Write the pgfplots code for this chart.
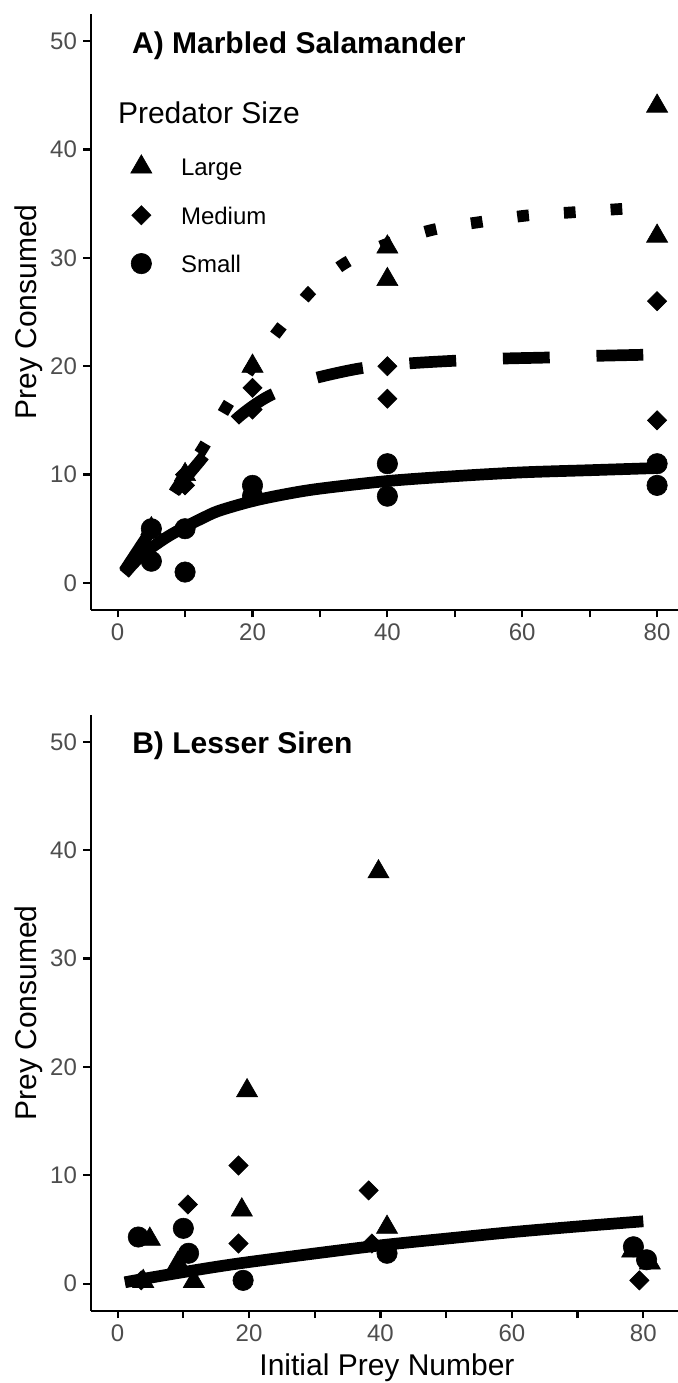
\documentclass[border=0pt]{standalone}
\usepackage{fontspec}
\setmainfont{Liberation Sans}
\usepackage{pgfplots}
\pgfplotsset{compat=1.18}
\definecolor{tickgray}{HTML}{4D4D4D}

\pgfplotsset{
  panel/.style={
    scale only axis, width=293.6pt, height=298pt,
    anchor=south west,
    axis x line=bottom, axis y line=left,
    axis line style={-, line width=1.1pt, black},
    ymin=-2.5, ymax=52.5,
    xtick={0,10,...,80}, xticklabels={0,,20,,40,,60,,80},
    ytick={0,10,...,50}, yticklabels={0,10,20,30,40,50},
    tick align=outside, major tick length=3.75pt,
    tick style={line width=1.1pt, black},
    ticklabel style={font=\fontsize{12}{14}\selectfont, text=tickgray, inner sep=0pt},
    xticklabel shift=3pt, yticklabel shift=3pt,
    clip=false,
  },
  mkleg/.style={legend image code/.code={
      \path[draw=none, fill=none] (-8pt,-5.75pt) rectangle (8pt,5.75pt);
      \draw[##1,overlay] plot coordinates {(0pt,1.25pt)};}},
  large/.style={only marks, mark=triangle*, mark size=6.1pt,
    mark options={fill=black, draw=black, line width=0.3pt}, mkleg},
  medium/.style={only marks, mark=square*, mark size=3.4pt,
    mark options={rotate=45, fill=black, draw=black, line width=0.3pt}, mkleg},
  small/.style={only marks, mark=*, mark size=5.1pt,
    mark options={fill=black, draw=black, line width=0.3pt}, mkleg},
  fit/.style={no marks, smooth, black, line width=5.85pt, line join=round, forget plot},
}

\begin{document}
\begin{tikzpicture}
\path[use as bounding box] (0,0) rectangle (339pt,691.5pt);

% A) Marbled Salamander
\begin{axis}[panel, at={(45.4pt,386.5pt)}, xmin=-3.98, xmax=83.1,
  legend cell align=left,
  legend style={at={(0.0588,0.7584)}, anchor=north west, draw=none, fill=none,
    inner sep=0pt, outer sep=0pt, row sep=12.65pt, column sep=0pt,
    font=\fontsize{12}{14}\selectfont,
    nodes={inner sep=0pt, text height=9pt, text depth=2.5pt},
    /tikz/every odd column/.append style={column sep=11.85pt}}]
\addplot[large] coordinates {
  (5,5) (10,10) (20,20) (40,31) (40,28) (80,44) (80,32)
};
\addlegendentry{Large}
\addplot[medium] coordinates {
  (5,5) (10,9) (10,10) (20,18) (20,16) (40,20) (40,17) (80,26) (80,15)
};
\addlegendentry{Medium}
\addplot[small] coordinates {
  (5,2) (5,5) (10,5) (10,1) (20,9) (20,8) (40,11) (40,8) (80,11) (80,9)
};
\addlegendentry{Small}
% fitted curves
\addplot[fit, dash pattern=on 5.85pt off 17.55pt] coordinates {
  (1,1.0) (4,4.0) (8,8.0) (12.7,12.5) (16.2,16.3) (20,20.0) (24.1,23.5)
  (28.8,27.0) (33.7,29.5) (40,31.3) (46.8,32.6) (53.7,33.3) (60.6,33.9)
  (67.5,34.2) (74.4,34.5) (80,34.7)
};
\addplot[fit, dash pattern=on 23.4pt off 23.4pt] coordinates {
  (1,1.1) (3,3.0) (5,4.9) (8,7.9) (10,9.6) (12,11.1) (14.5,13.0) (17.4,15.0)
  (20,16.3) (22.6,17.3) (26,18.2) (29.3,18.9) (36,19.8) (43.1,20.25)
  (49.9,20.5) (57,20.7) (63.8,20.8) (70.8,20.95) (77.8,21.05) (80,21.1)
};
\addplot[fit] coordinates {
  (1,0.83) (2,1.55) (3,2.2) (4,2.75) (5,3.25) (7.5,4.3) (10,5.17) (12.5,5.95)
  (15,6.65) (20,7.55) (25,8.2) (30,8.7) (40,9.4) (50,9.85) (60,10.2)
  (70,10.4) (80,10.6)
};
\node[anchor=base west, inner sep=0pt, font=\fontsize{15}{18}\selectfont\bfseries]
  at (axis cs:2.1,48.87) {A) Marbled Salamander};
\node[anchor=base west, inner sep=0pt, font=\fontsize{15}{18}\selectfont]
  at (axis cs:0,42.35) {Predator Size};
\end{axis}

% B) Lesser Siren
\begin{axis}[panel, at={(45.4pt,36.15pt)}, xmin=-4.08, xmax=85.28]
\addplot[large] coordinates {
  (3.9,0.2) (4.9,4.1) (9.2,1.9) (11.6,0.2) (18.9,6.8) (19.7,17.8)
  (39.7,38.0) (41.0,5.2) (78.3,3.0) (81.0,1.9)
};
\addplot[medium] coordinates {
  (3.6,0.3) (10.7,7.3) (18.4,10.9) (18.4,3.7) (38.2,8.6) (38.7,3.7) (79.4,0.3)
};
\addplot[small] coordinates {
  (3.15,4.3) (10.0,5.1) (10.8,2.8) (19.1,0.3) (41.0,2.8) (78.5,3.4) (80.5,2.2)
};
\addplot[fit] coordinates {
  (1.1,0.12) (5,0.55) (10,1.06) (15,1.55) (20,1.99) (30,2.78) (40,3.53)
  (50,4.15) (60,4.75) (70,5.27) (80,5.75)
};
\node[anchor=base west, inner sep=0pt, font=\fontsize{15}{18}\selectfont\bfseries]
  at (axis cs:2.18,48.9) {B) Lesser Siren};
\end{axis}

% axis titles
\node[rotate=90, anchor=base, inner sep=0pt, font=\fontsize{15}{18}\selectfont]
  at (18.25pt,535.5pt) {Prey Consumed};
\node[rotate=90, anchor=base, inner sep=0pt, font=\fontsize{15}{18}\selectfont]
  at (18.25pt,185.05pt) {Prey Consumed};
\node[anchor=base, inner sep=0pt, font=\fontsize{15}{18}\selectfont]
  at (193.5pt,3.6pt) {Initial Prey Number};
\end{tikzpicture}
\end{document}
